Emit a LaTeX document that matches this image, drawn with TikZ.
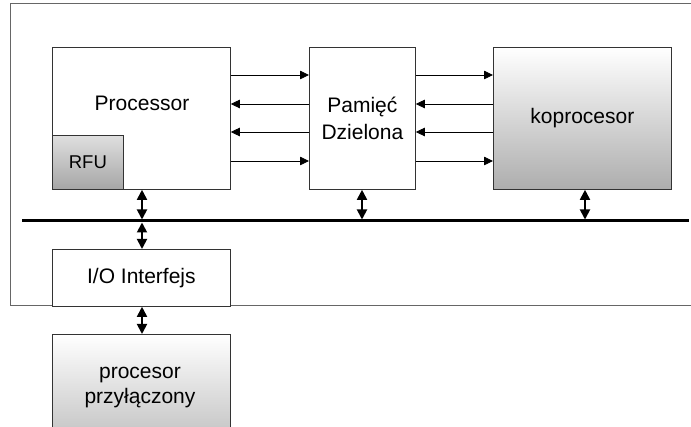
\documentclass[tikz,border=0pt]{standalone}
\usepackage{fontspec}
\setmainfont{Liberation Sans}
\usetikzlibrary{arrows.meta}
\begin{document}
\begin{tikzpicture}[x=1pt,y=-1pt,
  box/.style={draw=black!80, line width=0.8pt, fill=white, inner sep=0pt, anchor=north west},
  shadedbox/.style={box, top color=white, bottom color=gray!64},
  lbl/.style={inner sep=0pt, align=center, text=black, font=\fontsize{21}{27}\selectfont},
  sig/.style={line width=0.8pt, -{Triangle[length=9pt,width=8.5pt]}},
  link/.style={line width=1.8pt, {Triangle[length=10pt,width=10pt]}-{Triangle[length=10pt,width=10pt]}},
  bus/.style={line width=3pt}]
\useasboundingbox (0,0) rectangle (691,427);
\clip (0,0) rectangle (691,427);

% system frame
\draw[draw=black!60, line width=1pt] (10,4) rectangle (700,306);

% blocks
\node[box, minimum width=178pt, minimum height=142pt] (proc) at (52,47) {};
\node[lbl] (proctext) at (142,103) {Processor};
\node[box, top color=gray!25, bottom color=gray!70, minimum width=71pt, minimum height=54pt] (rfu) at (52,135) {};
\node[lbl, font=\fontsize{18.5}{22}\selectfont] (rfutext) at (rfu.center) {RFU};
\node[box, minimum width=106pt, minimum height=142pt] (mem) at (309,47) {};
\node[lbl] (memtext) at (mem.center) {Pamięć\\Dzielona};
\node[shadedbox, minimum width=178pt, minimum height=142pt] (kop) at (493,47) {};
\node[lbl] (koptext) at (kop.center) {koprocesor};
\node[box, minimum width=178pt, minimum height=57pt] (io) at (52,249) {};
\node[lbl] (iotext) at (io.center) {I/O Interfejs};
\node[shadedbox, minimum width=178pt, minimum height=142pt] (ext) at (52,334) {};
\node[lbl, font=\fontsize{21}{25}\selectfont] (exttext) at (140,388) {procesor\\przyłączony};

% data paths between processor, shared memory and coprocessor
\draw[sig] (proc.east |- 0,75)  -- (mem.west |- 0,75);
\draw[sig] (mem.west |- 0,104)  -- (proc.east |- 0,104);
\draw[sig] (mem.west |- 0,132)  -- (proc.east |- 0,132);
\draw[sig] (proc.east |- 0,161) -- (mem.west |- 0,161);
\draw[sig] (mem.east |- 0,75)   -- (kop.west |- 0,75);
\draw[sig] (kop.west |- 0,104)  -- (mem.east |- 0,104);
\draw[sig] (kop.west |- 0,132)  -- (mem.east |- 0,132);
\draw[sig] (mem.east |- 0,161)  -- (kop.west |- 0,161);

% system bus
\coordinate (busL) at (22,221);
\coordinate (busR) at (689,221);
\draw[bus] (busL) -- (busR);

% bus connections
\coordinate (pb) at (142,219.5);
\coordinate (pt) at (142,222.5);
\coordinate (mb) at (362,219.5);
\coordinate (kb) at (585,219.5);
\draw[link] (proc.south -| pb) -- (pb);
\draw[link] (pt) -- (io.north -| pt);
\draw[link] (mem.south -| mb) -- (mb);
\draw[link] (kop.south -| kb) -- (kb);
\draw[link] (io.south -| pt) -- (ext.north -| pt);
\end{tikzpicture}
\end{document}
